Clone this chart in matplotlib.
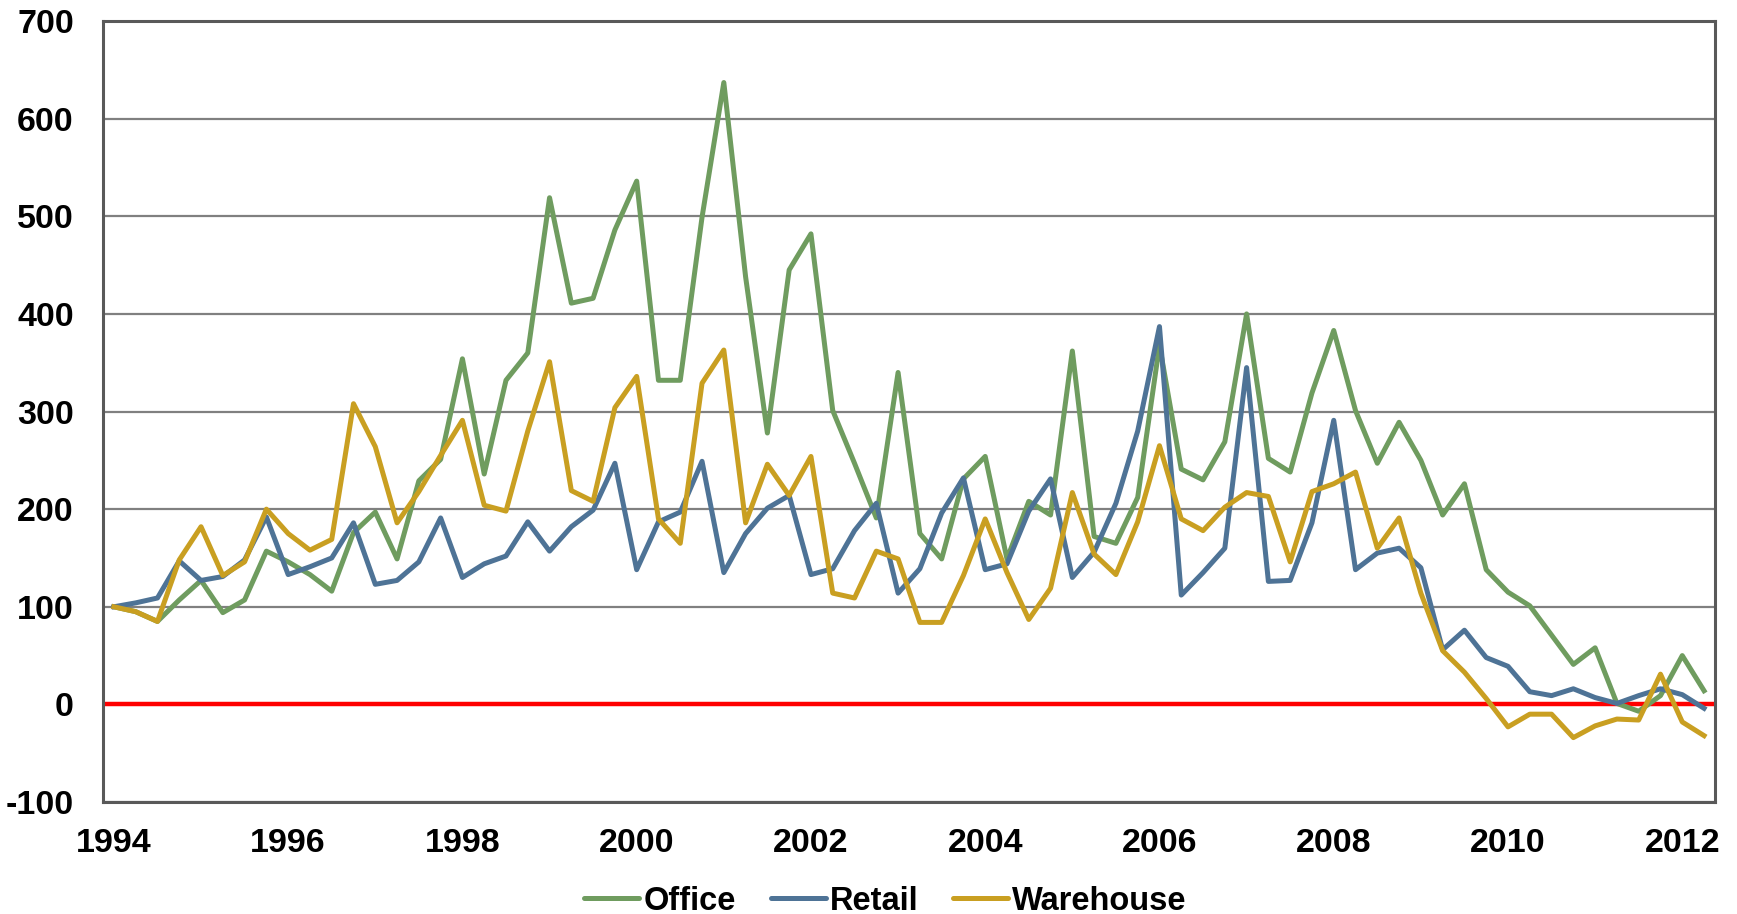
import numpy as np
import matplotlib
matplotlib.use("Agg")
import matplotlib.pyplot as plt

# Quarterly index values, 1994 Q1 .. 2012 Q2
start_year = 1994
office = [100, 95, 85, 107, 127, 94, 107, 157, 146, 133, 116, 176, 197, 149, 229, 251, 354, 236, 332,
          360, 519, 411, 416, 486, 536, 332, 332, 499, 637, 438, 278, 445, 482, 301, 247, 191, 340,
          175, 149, 231, 254, 149, 208, 194, 362, 172, 165, 212, 368, 241, 230, 269, 400, 252, 238,
          319, 383, 301, 247, 289, 250, 194, 226, 138, 115, 101, 71, 41, 58, 1, -7, 9, 50, 14]
retail = [100, 104, 109, 147, 127, 131, 148, 192, 133, 141, 150, 186, 123, 127, 146, 191, 130, 144, 152,
          187, 157, 182, 199, 247, 138, 187, 197, 249, 135, 175, 201, 214, 133, 139, 178, 206, 114,
          139, 196, 232, 138, 144, 198, 231, 130, 156, 206, 280, 387, 112, 135, 160, 345, 126, 127,
          186, 291, 138, 155, 160, 140, 56, 76, 48, 39, 13, 9, 16, 7, 1, 9, 16, 10, -4]
warehouse = [100, 95, 85, 148, 182, 132, 146, 200, 175, 158, 169, 308, 264, 186, 218, 255, 291, 204, 198,
             280, 351, 219, 208, 304, 336, 190, 165, 329, 363, 186, 246, 214, 254, 114, 109, 157, 149,
             84, 84, 132, 190, 135, 87, 119, 217, 154, 133, 187, 265, 190, 178, 202, 217, 213, 146,
             218, 226, 238, 160, 191, 114, 55, 33, 6, -23, -10, -10, -34, -22, -15, -16, 31, -18, -32]
year_ticks = list(range(1994, 2013, 2))
y_ticks = list(range(-100, 701, 100))

plt.rcParams["font.family"] = ["Liberation Sans", "DejaVu Sans"]
plt.rcParams["font.weight"] = "bold"
plt.rcParams["axes.unicode_minus"] = False

x = start_year + np.arange(len(office)) / 4.0

fig = plt.figure(figsize=(17.37, 9.14), dpi=100)
ax = fig.add_axes([0.0593, 0.1225, 0.928, 0.8545])

ax.set_axisbelow(True)
ax.grid(axis="y", color="#808080", lw=1.6)
ax.axhline(0, color="#ff0000", lw=3.2, zorder=2)

ax.plot(x, office, color="#6f9c5f", lw=3.6, label="Office", zorder=3, solid_joinstyle="round")
ax.plot(x, retail, color="#4e7396", lw=3.6, label="Retail", zorder=4, solid_joinstyle="round")
ax.plot(x, warehouse, color="#c99f21", lw=3.6, label="Warehouse", zorder=5, solid_joinstyle="round")

ax.set_xlim(start_year - 0.125, 2012.375)
ax.set_ylim(-100, 700)
ax.set_xticks(year_ticks)
ax.set_yticks(y_ticks)
ax.tick_params(axis="both", length=0, labelsize=24.5)
ax.tick_params(axis="y", pad=21)
ax.tick_params(axis="x", pad=19)
for lbl in ax.get_xticklabels() + ax.get_yticklabels():
    lbl.set_fontweight("bold")

for s in ax.spines.values():
    s.set_color("#595959")
    s.set_linewidth(2.2)

leg = fig.legend(loc="center", bbox_to_anchor=(0.5098, 0.014), ncol=3, frameon=False,
                 fontsize=23.5, handlelength=1.69, handletextpad=0.12, columnspacing=1.07)
for t in leg.get_texts():
    t.set_fontweight("bold")
for h in leg.get_lines():
    h.set_linewidth(3.6)
    h.set_solid_capstyle("round")

fig.savefig("out.png", dpi=100)
